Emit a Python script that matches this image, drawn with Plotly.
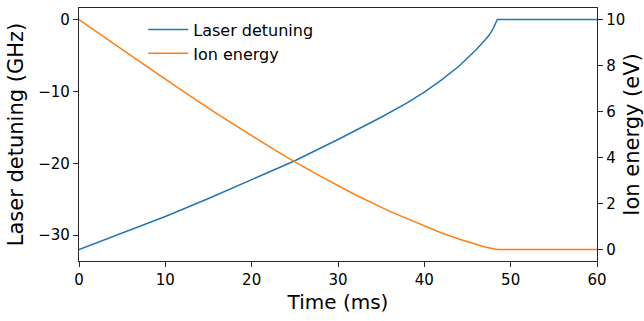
import plotly.graph_objects as go

# Laser detuning (GHz) vs time (ms)
detuning_time = [0, 5, 10, 15, 20, 25, 30, 35, 38, 40, 42, 44, 45, 46, 47, 47.5, 48,
                 48.45, 60]
detuning_ghz = [-32.0, -29.75, -27.4, -24.9, -22.3, -19.65, -16.7, -13.6, -11.6, -10.1,
                -8.4, -6.5, -5.35, -4.2, -2.9, -2.2, -1.2, 0, 0]

# Ion energy (eV) vs time (ms)
energy_time = [0, 4, 8, 12, 16, 20, 24, 28, 32, 36, 40, 42, 44, 46, 47, 48, 48.45, 60]
energy_ev = [10.0, 8.95, 7.92, 6.9, 5.9, 4.95, 4.03, 3.18, 2.38, 1.66, 1.01, 0.72, 0.46,
             0.22, 0.11, 0.03, 0, 0]

FONT = "DejaVu Sans"
AXIS_COLOR = "#262626"

fig = go.Figure()

fig.add_trace(go.Scatter(
    x=detuning_time, y=detuning_ghz,
    mode="lines", name="Laser detuning",
    line=dict(color="#1f77b4", width=1.5),
    yaxis="y",
))
fig.add_trace(go.Scatter(
    x=energy_time, y=energy_ev,
    mode="lines", name="Ion energy",
    line=dict(color="#ff7f0e", width=1.5),
    yaxis="y2",
))

axis_common = dict(
    showgrid=False, zeroline=False, automargin=False,
    showline=True, linecolor=AXIS_COLOR, linewidth=1.3,
    ticks="outside", ticklen=5, tickwidth=1, tickcolor=AXIS_COLOR,
    tickfont=dict(family=FONT, size=15, color="black"),
)

fig.update_layout(
    width=644, height=321,
    margin=dict(l=79, r=47, t=8, b=60),
    paper_bgcolor="white", plot_bgcolor="white",
    font=dict(family=FONT, color="black"),
    xaxis=dict(
        range=[0, 60], tickvals=[0, 10, 20, 30, 40, 50, 60], mirror=True,
        title=dict(text="Time (ms)", font=dict(family=FONT, size=20), standoff=6),
        **axis_common,
    ),
    yaxis=dict(
        range=[-33.6, 1.6], tickvals=[-30, -20, -10, 0],
        title=dict(text="Laser detuning (GHz)", font=dict(family=FONT, size=21), standoff=8),
        **axis_common,
    ),
    yaxis2=dict(
        range=[-0.5, 10.5], tickvals=[0, 2, 4, 6, 8, 10],
        overlaying="y", side="right",
        title=dict(text="Ion energy (eV)", font=dict(family=FONT, size=21), standoff=3),
        **axis_common,
    ),
    legend=dict(
        x=0.124, y=0.982, xanchor="left", yanchor="top",
        bgcolor="rgba(0,0,0,0)", itemwidth=40,
        font=dict(family=FONT, size=16),
    ),
    showlegend=True,
)

# drop the page's default body margin so the figure sits at the window's corner
fig.write_html("out.html", config={"displayModeBar": False},
               post_script="document.body.style.margin = '0';")
